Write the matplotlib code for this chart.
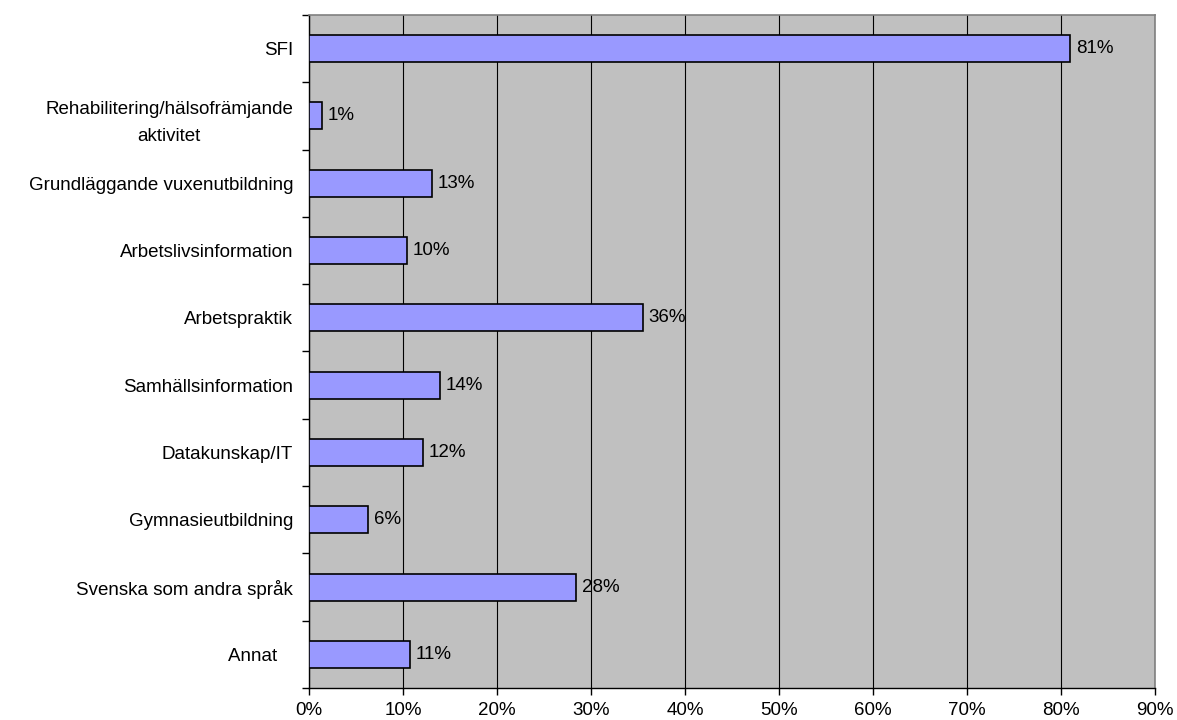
import matplotlib
matplotlib.use("Agg")
import matplotlib.pyplot as plt
import numpy as np
from matplotlib.ticker import FixedLocator

plt.rcParams['font.family'] = ['Liberation Sans', 'DejaVu Sans']

categories = ["SFI", "Rehabilitering/hälsofrämjande\naktivitet", "Grundläggande vuxenutbildning",
              "Arbetslivsinformation", "Arbetspraktik", "Samhällsinformation", "Datakunskap/IT",
              "Gymnasieutbildning", "Svenska som andra språk", "Annat   "]
values = [81.0, 1.4, 13.1, 10.4, 35.5, 13.9, 12.1, 6.3, 28.4, 10.7]
labels = ["81%", "1%", "13%", "10%", "36%", "14%", "12%", "6%", "28%", "11%"]
xticks = [0, 10, 20, 30, 40, 50, 60, 70, 80, 90]

FS = 13.5

fig = plt.figure(figsize=(11.77, 7.2), dpi=100)
ax = fig.add_axes([309/1177, 1-688/720, (1155-309)/1177, (688-15)/720])
ax.set_facecolor('#C0C0C0')

n = len(categories)
y = np.arange(n)
ax.barh(y, values, height=0.4, color='#9999FF', edgecolor='black', linewidth=1.2, zorder=3)
for yi, v, lab in zip(y, values, labels):
    ax.annotate(lab, (v, yi), xytext=(4, 0), textcoords='offset points',
                va='center', ha='left', fontsize=FS, zorder=4)

ax.set_xlim(0, 90)
ax.set_ylim(n - 0.5, -0.5)
ax.set_xticks(xticks)
ax.set_xticklabels([f"{t}%" for t in xticks], fontsize=FS)
ax.set_yticks(y)
ax.set_yticklabels(categories, fontsize=FS, multialignment='center', linespacing=1.75)
ax.yaxis.set_minor_locator(FixedLocator(np.arange(-0.5, n, 1.0)))
ax.tick_params(axis='y', which='major', length=0, pad=11.5)
ax.tick_params(axis='y', which='minor', length=5, width=1, direction='out')
ax.tick_params(axis='x', which='major', length=5, width=1, direction='out', pad=5)
ax.xaxis.grid(True, color='black', linewidth=0.8, zorder=0)
ax.set_axisbelow(True)
for s in ['top', 'right']:
    ax.spines[s].set_color('#808080')
    ax.spines[s].set_linewidth(1.2)
for s in ['left', 'bottom']:
    ax.spines[s].set_color('black')
    ax.spines[s].set_linewidth(1)

fig.savefig('out.png', dpi=100)
